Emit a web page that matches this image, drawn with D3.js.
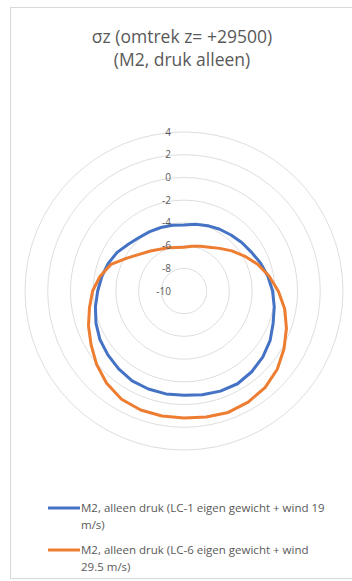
<!DOCTYPE html>
<html>
<head>
<meta charset="utf-8">
<script src="https://cdn.jsdelivr.net/npm/d3@7"></script>
<style>
  html, body { margin: 0; padding: 0; background: #fff; }
  svg { display: block; }
  text { font-family: "Open Sans", "Liberation Sans", sans-serif; fill: #595959; }
</style>
</head>
<body>
<svg id="chart" width="352" height="581"></svg>
<script>
// Angles around the circumference (degrees, clockwise from the top)
const angles = d3.range(0, 360, 10);

// σz values along the circumference for the two load cases
const lc1Values = [
  -4.18, -4.03, -3.88, -3.72, -3.56, -3.36, -3.15, -2.82, -2.5, -2.2,
  -1.93, -1.65, -1.25, -0.95, -0.72, -0.57, -0.62, -0.72, -0.82, -0.8,
  -0.82, -0.87, -1.05, -1.25, -1.45, -1.75, -2.08, -2.4, -2.65, -2.9,
  -3.2, -3.6, -3.85, -3.97, -4.05, -4.12
];
const lc6Values = [
  -6.15, -6.0, -5.8, -5.55, -5.1, -4.5, -3.85, -3.1, -2.4, -1.7,
  -1.0, -0.4, 0.17, 0.72, 1.1, 1.3, 1.38, 1.27, 1.18, 1.18,
  1.15, 1.0, 0.6, 0.05, -0.55, -1.05, -1.55, -1.95, -2.5, -3.15,
  -4.2, -4.95, -5.4, -5.75, -5.95, -6.1
];

const seriesNames = [
  ["M2, alleen druk (LC-1 eigen gewicht + wind 19", "m/s)"],
  ["M2, alleen druk (LC-6 eigen gewicht + wind", "29.5 m/s)"]
];
const seriesColors = ["#4472C4", "#ED7D31"];

const tickValues = [-10, -8, -6, -4, -2, 0, 2, 4];
const titleLines = ["σz (omtrek z= +29500)", "(M2, druk alleen)"];

const svg = d3.select("#chart");

// chart frame
svg.append("rect")
  .attr("x", 10.5).attr("y", 7.5)
  .attr("width", 360).attr("height", 571)
  .attr("fill", "none").attr("stroke", "#d9d9d9").attr("stroke-width", 1);

// title
svg.append("g").selectAll("text")
  .data(titleLines)
  .join("text")
  .attr("x", 182)
  .attr("y", (d, i) => 43 + i * 23)
  .attr("text-anchor", "middle")
  .style("font-size", "17.5px")
  .text(d => d);

const cx = 184, cy = 291;
const r = d3.scaleLinear().domain([-10, 4]).range([0, 159]);
const plot = svg.append("g").attr("transform", `translate(${cx},${cy})`);

// gridline rings
plot.append("g").selectAll("circle")
  .data(tickValues.filter(v => v > -10))
  .join("circle")
  .attr("r", d => r(d))
  .attr("fill", "none")
  .attr("stroke", "#dedede")
  .attr("stroke-width", 1);

// series outlines
const line = d3.lineRadial()
  .angle((d, i) => angles[i] * Math.PI / 180)
  .radius(d => r(d))
  .curve(d3.curveLinearClosed);

[lc1Values, lc6Values].forEach((vals, k) => {
  plot.append("path")
    .attr("d", line(vals))
    .attr("fill", "none")
    .attr("stroke", seriesColors[k])
    .attr("stroke-width", 3)
    .attr("stroke-linejoin", "round");
});

// value axis labels
plot.append("g").selectAll("text")
  .data(tickValues)
  .join("text")
  .attr("x", -13)
  .attr("y", d => -r(d))
  .attr("dy", "0.35em")
  .attr("text-anchor", "end")
  .style("font-size", "10px")
  .text(d => d);

// legend
const legend = svg.append("g");
seriesNames.forEach((lines, k) => {
  const y0 = k === 0 ? 508 : 550;
  legend.append("line")
    .attr("x1", 48).attr("x2", 80)
    .attr("y1", y0).attr("y2", y0)
    .attr("stroke", seriesColors[k]).attr("stroke-width", 3);
  lines.forEach((t, j) => {
    legend.append("text")
      .attr("x", 81)
      .attr("y", y0 + j * 17)
      .attr("dy", "0.35em")
      .style("font-size", "11.5px")
      .text(t);
  });
});
</script>
</body>
</html>
